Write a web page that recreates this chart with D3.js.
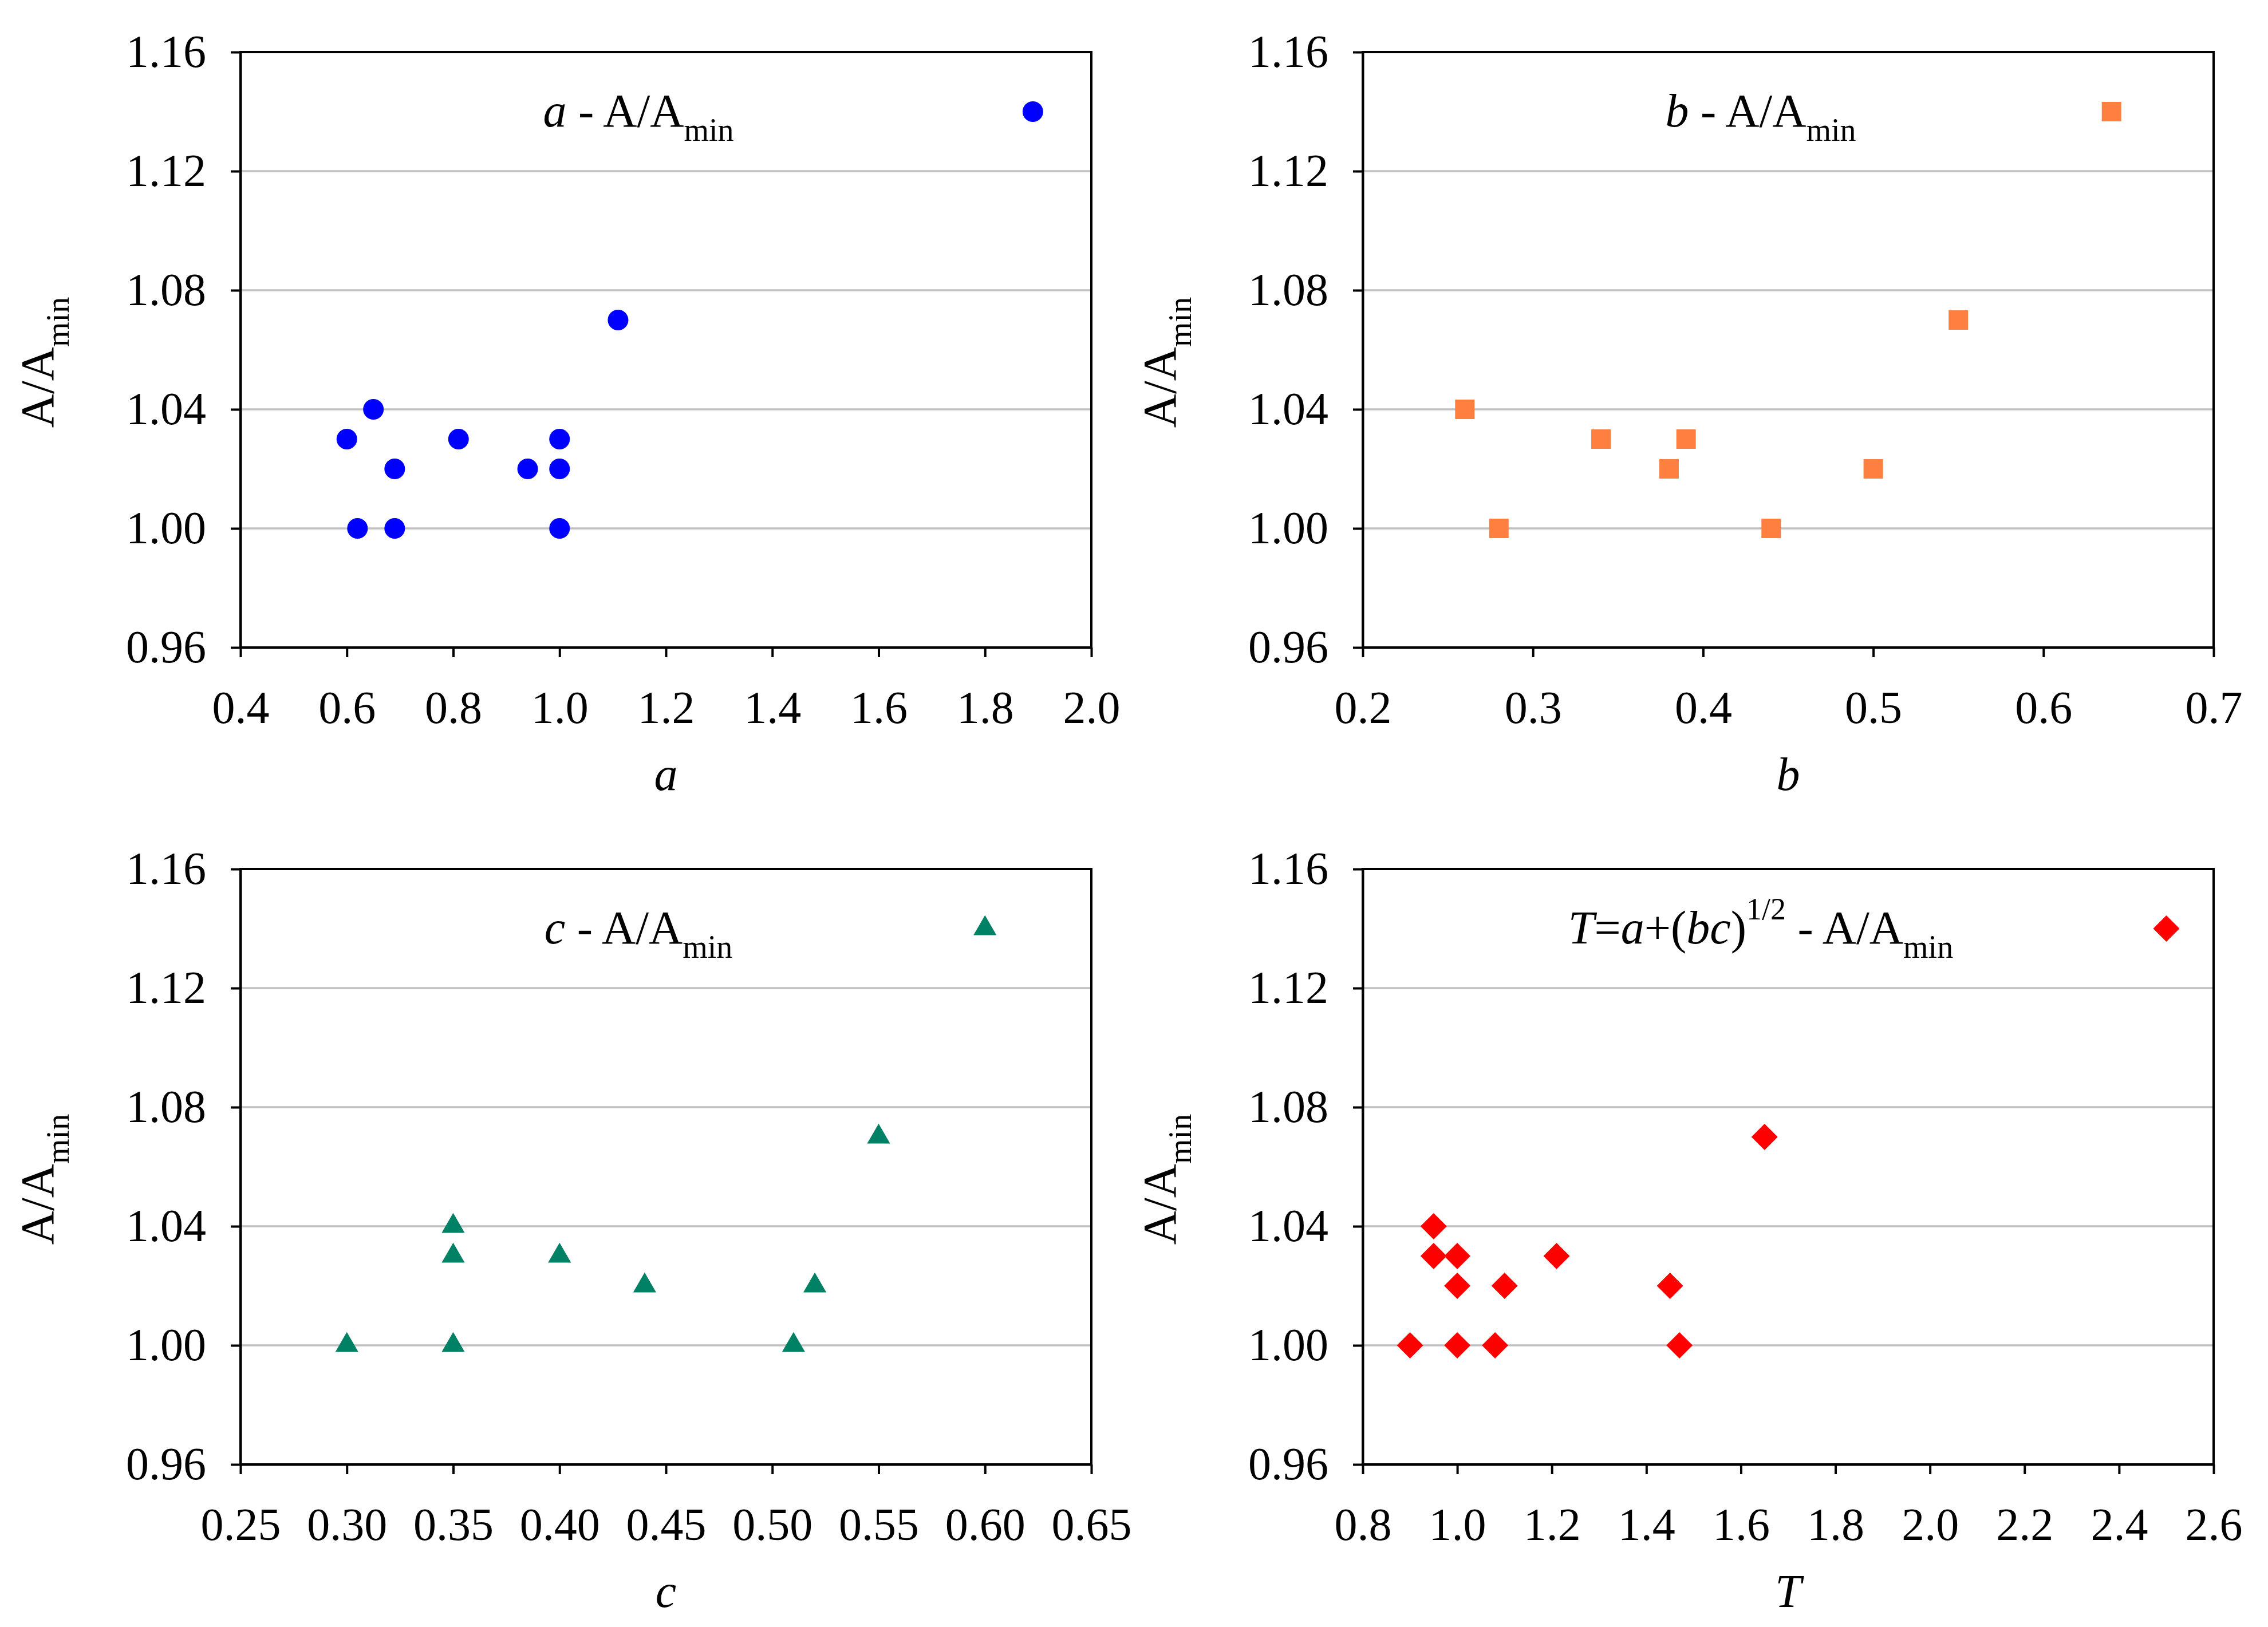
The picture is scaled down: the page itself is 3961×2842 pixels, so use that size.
<!DOCTYPE html>
<html>
<head>
<meta charset="utf-8">
<script src="https://cdn.jsdelivr.net/npm/d3@7"></script>
<style>
  body { margin: 0; background: #fff; }
</style>
</head>
<body>
<div id="chart"></div>
<script>
// values
const aValues = [1.89, 1.11, 0.65, 0.60, 0.81, 1.00, 0.69, 0.94, 1.00, 0.62, 0.69, 1.00];
const aRatio  = [1.14, 1.07, 1.04, 1.03, 1.03, 1.03, 1.02, 1.02, 1.02, 1.00, 1.00, 1.00];
const bValues = [0.64, 0.55, 0.26, 0.34, 0.39, 0.38, 0.50, 0.28, 0.44];
const bRatio  = [1.14, 1.07, 1.04, 1.03, 1.03, 1.02, 1.02, 1.00, 1.00];
const cValues = [0.60, 0.55, 0.35, 0.35, 0.40, 0.44, 0.52, 0.30, 0.35, 0.51];
const cRatio  = [1.14, 1.07, 1.04, 1.03, 1.03, 1.02, 1.02, 1.00, 1.00, 1.00];
const tValues = [2.50, 1.65, 0.95, 0.95, 1.00, 1.21, 1.00, 1.10, 1.45, 0.90, 1.00, 1.08, 1.47];
const tRatio  = [1.14, 1.07, 1.04, 1.03, 1.03, 1.03, 1.02, 1.02, 1.02, 1.00, 1.00, 1.00, 1.00];

const yTicks = [0.96, 1.00, 1.04, 1.08, 1.12, 1.16];
const aTicks = [0.4, 0.6, 0.8, 1.0, 1.2, 1.4, 1.6, 1.8, 2.0];
const bTicks = [0.2, 0.3, 0.4, 0.5, 0.6, 0.7];
const cTicks = [0.25, 0.30, 0.35, 0.40, 0.45, 0.50, 0.55, 0.60, 0.65];
const tTicks = [0.8, 1.0, 1.2, 1.4, 1.6, 1.8, 2.0, 2.2, 2.4, 2.6];

const W = 3961, H = 2842;
const FONT = '"Liberation Serif", "Times New Roman", serif';
const plotW = 1486, plotH = 1040;

const diamond = {
    draw (ctx, size) {
        const r = Math.sqrt(size) / 2;
        ctx.moveTo(0, -r); ctx.lineTo(r, 0); ctx.lineTo(0, r); ctx.lineTo(-r, 0); ctx.closePath();
    }
};

const panels = [
    { left: 420, top: 91, xs: aValues, ys: aRatio, ticks: aTicks, fmt: '.1f', xLabel: 'a',
      symbol: d3.symbolCircle, size: Math.PI * 18 * 18, color: '#0000FF',
      title: [['a', 'i'], [' - A/A', ''], ['min', 'sub']] },
    { left: 2380, top: 91, xs: bValues, ys: bRatio, ticks: bTicks, fmt: '.1f', xLabel: 'b',
      symbol: d3.symbolSquare, size: 34 * 34, color: '#FF7F40',
      title: [['b', 'i'], [' - A/A', ''], ['min', 'sub']] },
    { left: 420, top: 1518, xs: cValues, ys: cRatio, ticks: cTicks, fmt: '.2f', xLabel: 'c',
      symbol: d3.symbolTriangle, size: 700, color: '#008064',
      title: [['c', 'i'], [' - A/A', ''], ['min', 'sub']] },
    { left: 2380, top: 1518, xs: tValues, ys: tRatio, ticks: tTicks, fmt: '.1f', xLabel: 'T',
      symbol: diamond, size: 46 * 46, color: '#FF0000',
      title: [['T', 'i'], ['=', ''], ['a', 'i'], ['+(', ''], ['bc', 'i'], [')', ''],
              ['1/2', 'sup'], [' - A/A', 'back'], ['min', 'sub']] }
];

const svg = d3.select('#chart').append('svg')
    .attr('width', W).attr('height', H)
    .style('font-family', FONT);
svg.append('rect').attr('width', W).attr('height', H).attr('fill', '#fff');

panels.forEach(p => {
    const g = svg.append('g').attr('transform', `translate(${p.left},${p.top})`);
    const x = d3.scaleLinear().domain(d3.extent(p.ticks)).range([0, plotW]);
    const y = d3.scaleLinear().domain(d3.extent(yTicks)).range([plotH, 0]);

    // grid
    g.selectAll('.grid').data(yTicks).enter().append('line')
        .attr('x1', 0).attr('x2', plotW)
        .attr('y1', d => y(d)).attr('y2', d => y(d))
        .attr('stroke', '#C0C0C0').attr('stroke-width', 3.5);

    // frame
    g.append('rect').attr('width', plotW).attr('height', plotH)
        .attr('fill', 'none').attr('stroke', '#000').attr('stroke-width', 4);

    const xAxis = g.append('g').attr('transform', `translate(0,${plotH})`)
        .call(d3.axisBottom(x).tickValues(p.ticks).tickFormat(d3.format(p.fmt))
            .tickSizeInner(17).tickSizeOuter(0).tickPadding(58));
    const yAxis = g.append('g')
        .call(d3.axisLeft(y).tickValues(yTicks).tickFormat(d3.format('.2f'))
            .tickSizeInner(17).tickSizeOuter(0).tickPadding(43));
    [xAxis, yAxis].forEach(ax => {
        ax.select('.domain').attr('stroke', '#000').attr('stroke-width', 4);
        ax.selectAll('.tick line').attr('stroke', '#000').attr('stroke-width', 4);
        ax.selectAll('.tick text').attr('fill', '#000')
            .style('font-family', FONT).style('font-size', '80px');
    });

    // markers
    const sym = d3.symbol().type(p.symbol).size(p.size);
    g.selectAll('.pt').data(p.xs.map((v, i) => [v, p.ys[i]])).enter().append('path')
        .attr('d', sym)
        .attr('transform', d => `translate(${x(d[0])},${y(d[1])})`)
        .attr('fill', p.color);

    // panel title
    const t = g.append('text')
        .attr('x', plotW / 2 - 48).attr('y', 130)
        .attr('text-anchor', 'middle')
        .style('font-size', '82px');
    p.title.forEach(([s, k]) => {
        const sp = t.append('tspan').text(s);
        if (k === 'i') sp.style('font-style', 'italic');
        if (k === 'sub') sp.attr('dy', 25).style('font-size', '56px');
        if (k === 'sup') sp.attr('dy', -42).style('font-size', '54px');
        if (k === 'back') sp.attr('dy', 42);
    });

    // x axis title
    g.append('text')
        .attr('x', plotW / 2).attr('y', plotH + 249)
        .attr('text-anchor', 'middle')
        .style('font-size', '82px').style('font-style', 'italic')
        .text(p.xLabel);

    // y axis title
    const yt = g.append('text')
        .attr('transform', `translate(-327,${plotH / 2 + 22}) rotate(-90)`)
        .attr('text-anchor', 'middle')
        .style('font-size', '82px');
    yt.append('tspan').text('A/A');
    yt.append('tspan').attr('dy', 27).style('font-size', '56px').text('min');
});
</script>
</body>
</html>
